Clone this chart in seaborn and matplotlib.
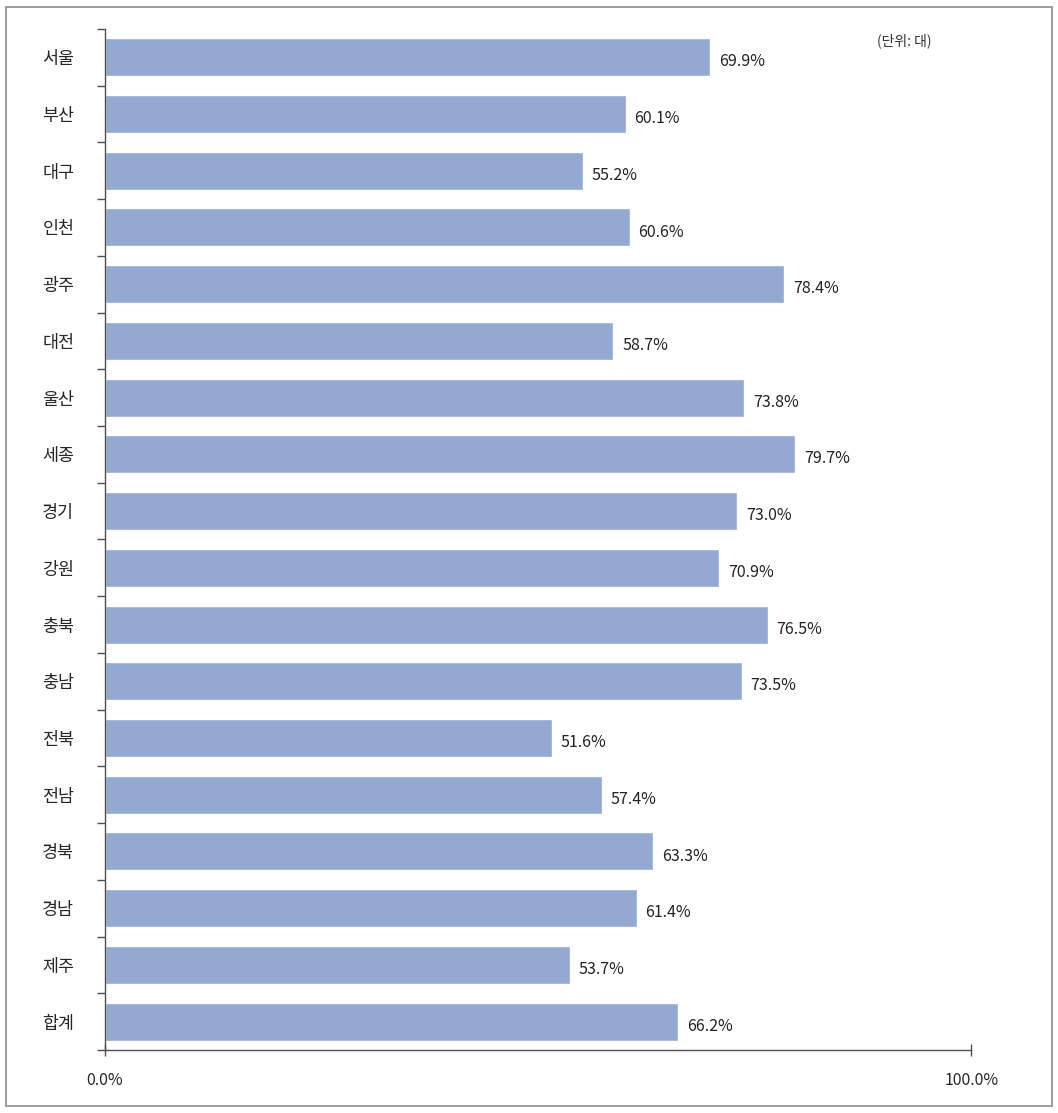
import matplotlib
matplotlib.use("Agg")
import matplotlib.pyplot as plt
import seaborn as sns
import numpy as np
import pandas as pd
from matplotlib.patches import Rectangle

regions = ["서울", "부산", "대구", "인천", "광주", "대전", "울산", "세종", "경기",
           "강원", "충북", "충남", "전북", "전남", "경북", "경남", "제주", "합계"]
rates = [69.9, 60.1, 55.2, 60.6, 78.4, 58.7, 73.8, 79.7, 73.0,
         70.9, 76.5, 73.5, 51.6, 57.4, 63.3, 61.4, 53.7, 66.2]
x_ticks = [0, 100]
x_tick_labels = ["0.0%", "100.0%"]
unit_note = "(단위: 대)"

sns.set_style("white")
plt.rcParams['font.family'] = ['Noto Sans CJK KR', 'DejaVu Sans']

df = pd.DataFrame({"region": regions, "rate": rates})

fig = plt.figure(figsize=(10.58, 11.13), dpi=100)
ax = fig.add_axes([0.0992, 0.0566, 0.8188, 0.9174])

sns.barplot(data=df, x="rate", y="region", orient="h", color="#93A9D1",
            saturation=1, width=0.67, ax=ax)

# 값 라벨
for i, v in enumerate(rates):
    ax.text(v + 1.0, i + 0.08, f"{v:.1f}%", va="center", ha="left",
            fontsize=11.5, color="#222222")

ax.set_xlim(0, 100)
ax.set_ylim(len(regions) - 0.5, -0.5)
ax.set_xticks(x_ticks)
ax.set_xticklabels(x_tick_labels, fontsize=11.5)
ax.set_xlabel("")
ax.set_ylabel("")
ax.tick_params(axis="x", bottom=True, length=8, width=1, color="#505050", pad=12,
               direction="inout")
ax.tick_params(axis="y", which="major", left=False, length=0, pad=22, labelsize=12.5)
ax.set_yticks(np.arange(-0.5, len(regions), 1), minor=True)
ax.tick_params(axis="y", which="minor", left=True, length=6, width=1, color="#505050")

for side in ["top", "right"]:
    ax.spines[side].set_visible(False)
for side in ["left", "bottom"]:
    ax.spines[side].set_color("#505050")
    ax.spines[side].set_linewidth(1)

fig.text(0.829, 0.970, unit_note, fontsize=10, ha="left", va="top", color="#333333")

# 바깥 테두리
fig.patches.append(Rectangle((0.006, 0.006), 0.988, 0.988, transform=fig.transFigure,
                             fill=False, edgecolor="#8c8c8c", linewidth=1.2))

plt.savefig("out.png", dpi=100)
plt.close()
